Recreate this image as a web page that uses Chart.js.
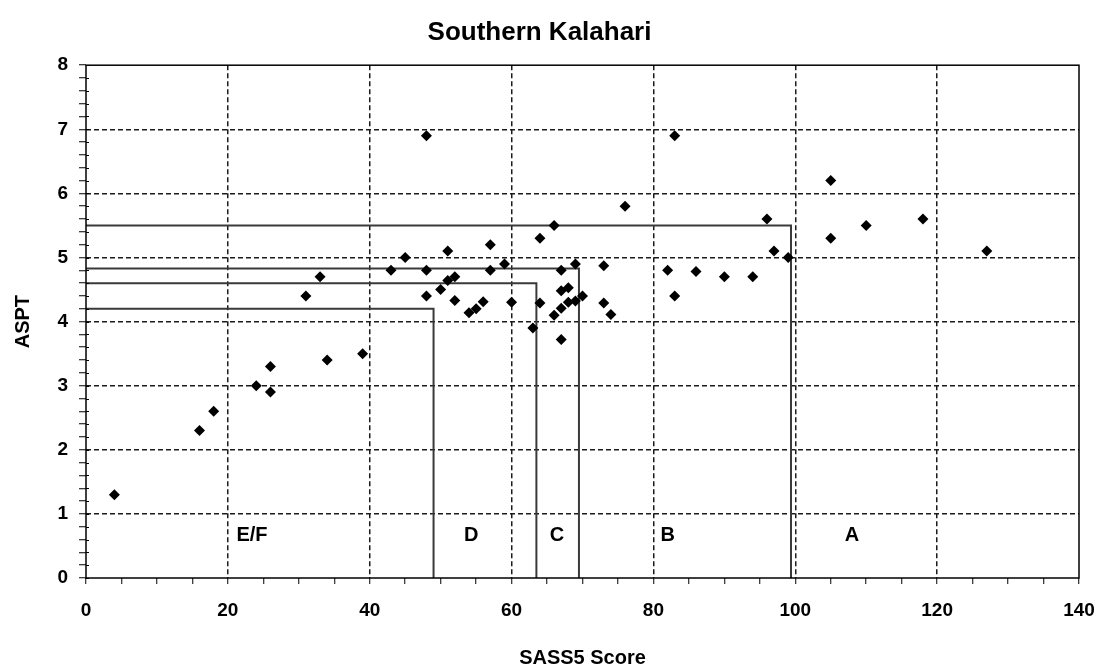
<!DOCTYPE html>
<html>
<head>
<meta charset="utf-8">
<script src="https://cdn.jsdelivr.net/npm/chart.js@4"></script>
<style>
  body { margin: 0; background: #fff; }
  #wrap { width: 1099px; height: 668px; position: relative; }
</style>
</head>
<body>
<div id="wrap"><canvas id="chart"></canvas></div>
<script>
// SASS5 score vs ASPT, one pair per site
const sassScore = [4, 16, 18, 24, 26, 26, 31, 33, 34, 39,
    43, 45, 48, 48, 48, 50, 51, 51, 52, 52,
    54, 55, 56, 57, 57, 59, 60, 63, 64, 64,
    66, 66, 67, 67, 67, 67, 68, 68, 69, 69,
    70, 73, 73, 74, 76, 82, 83, 83, 86, 90,
    94, 96, 97, 99, 105, 105, 110, 118, 127];
const asptValue = [1.3, 2.3, 2.6, 3.0, 3.3, 2.9, 4.4, 4.7, 3.4, 3.5,
    4.8, 5.0, 6.9, 4.8, 4.4, 4.5, 5.1, 4.64, 4.7, 4.33,
    4.14, 4.2, 4.31, 5.2, 4.8, 4.9, 4.3, 3.9, 5.3, 4.29,
    5.5, 4.1, 4.8, 4.48, 4.21, 3.72, 4.53, 4.3, 4.9, 4.32,
    4.4, 4.87, 4.29, 4.11, 5.8, 4.8, 6.9, 4.4, 4.78, 4.7,
    4.7, 5.6, 5.1, 5.0, 6.2, 5.3, 5.5, 5.6, 5.1];

// Class boundaries (SASS5 limit, ASPT limit)
const bandSass = [49, 63.5, 69.5, 99.4];
const bandAspt = [4.2, 4.6, 4.83, 5.5];

// Class labels
const classNames = ['E/F', 'D', 'C', 'B', 'A'];
const classPosX = [23.4, 54.3, 66.4, 82, 108];
const classPosY = 0.67;

const FONT = "'Liberation Sans', Arial, sans-serif";

const datasets = [{
    type: 'scatter',
    label: 'Sites',
    data: sassScore.map((s, i) => ({ x: s, y: asptValue[i] })),
    pointStyle: 'rectRot',
    pointRadius: 5.5,
    backgroundColor: '#000',
    borderColor: '#000',
    borderWidth: 0,
}];

bandSass.forEach((s, i) => {
    datasets.push({
        type: 'line',
        label: 'band' + i,
        data: [{ x: 0, y: bandAspt[i] }, { x: s, y: bandAspt[i] }, { x: s, y: 0 }],
        borderColor: '#3a3a3a',
        borderWidth: 2,
        pointRadius: 0,
        fill: false,
        tension: 0,
    });
});

// frame, inner y ticks and class labels
const extras = {
    id: 'extras',
    afterDraw(chart) {
        const { ctx, chartArea: a, scales } = chart;
        ctx.save();
        ctx.strokeStyle = '#000';
        ctx.lineWidth = 1.5;
        ctx.strokeRect(a.left, a.top, a.right - a.left, a.bottom - a.top);
        ctx.lineWidth = 1;
        scales.y.ticks.forEach(t => {
            const py = Math.round(scales.y.getPixelForValue(t.value)) + 0.5;
            ctx.beginPath();
            ctx.moveTo(a.left, py);
            ctx.lineTo(a.left + 3, py);
            ctx.stroke();
        });
        ctx.fillStyle = '#000';
        ctx.font = 'bold 20px ' + FONT;
        ctx.textAlign = 'center';
        ctx.textBaseline = 'middle';
        classNames.forEach((n, i) => {
            ctx.fillText(n, scales.x.getPixelForValue(classPosX[i]), scales.y.getPixelForValue(classPosY));
        });
        ctx.restore();
    }
};

new Chart(document.getElementById('chart'), {
    type: 'scatter',
    data: { datasets },
    options: {
        responsive: true,
        maintainAspectRatio: false,
        animation: false,
        layout: { padding: { left: 0, right: 20, top: 0, bottom: 0 } },
        plugins: {
            legend: { display: false },
            tooltip: { enabled: false },
            title: {
                display: true,
                text: 'Southern Kalahari',
                color: '#000',
                font: { family: FONT, size: 26, weight: 'bold', lineHeight: 1.2 },
                padding: { top: 17, bottom: 17 },
            },
        },
        scales: {
            x: {
                type: 'linear',
                min: 0,
                max: 140,
                afterFit(scale) {
                    scale.height = 90;
                    scale.paddingLeft = 0;
                    scale.paddingRight = 0;
                },
                border: { display: false, dash: [5, 3] },
                grid: {
                    color: c => (c.tick && c.tick.value % 20 === 0 && c.tick.value > 0 && c.tick.value < 140) ? '#1a1a1a' : 'transparent',
                    lineWidth: 1.5,
                    tickColor: '#000',
                    tickLength: 6,
                    tickWidth: 1,
                },
                ticks: {
                    stepSize: 5,
                    maxTicksLimit: 100,
                    autoSkip: false,
                    maxRotation: 0,
                    padding: 15,
                    color: '#000',
                    font: { family: FONT, size: 19, weight: 'bold' },
                    callback: v => (v % 20 === 0 ? String(v) : ''),
                },
                title: {
                    display: true,
                    text: 'SASS5 Score',
                    color: '#000',
                    font: { family: FONT, size: 20, weight: 'bold', lineHeight: 1 },
                    padding: { top: 0, bottom: 0 },
                },
            },
            y: {
                type: 'linear',
                min: 0,
                max: 8,
                afterFit(scale) { scale.width = 86; },
                border: { display: false, dash: [5, 3] },
                grid: {
                    color: c => {
                        const v = c.tick ? c.tick.value : -1;
                        return (Math.abs(v - Math.round(v)) < 1e-6 && v > 0 && v < 8) ? '#1a1a1a' : 'transparent';
                    },
                    lineWidth: 1.5,
                    tickColor: '#000',
                    tickLength: 7,
                    tickWidth: 1,
                },
                ticks: {
                    stepSize: 0.2,
                    maxTicksLimit: 100,
                    autoSkip: false,
                    padding: 11,
                    color: '#000',
                    font: { family: FONT, size: 19, weight: 'bold' },
                    callback: v => (Math.abs(v - Math.round(v)) < 1e-6 ? String(Math.round(v)) : ''),
                },
                title: {
                    display: true,
                    text: 'ASPT',
                    color: '#000',
                    font: { family: FONT, size: 20, weight: 'bold', lineHeight: 1.2 },
                    padding: { top: 11, bottom: 11 },
                },
            },
        },
    },
    plugins: [extras],
});
</script>
</body>
</html>
